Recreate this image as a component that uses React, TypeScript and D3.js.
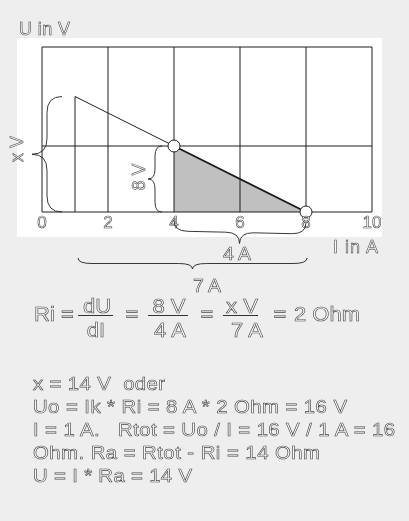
import React, { useEffect, useRef } from 'react';
import * as d3 from 'd3';

const WIDTH = 409;
const HEIGHT = 521;

// current axis (I in A) and voltage grid (U in V)
const xTicks = [0, 2, 4, 6, 8, 10];
const yGrid = [0, 8, 20];

// characteristic: from I=1A/U=14V through the measured point to the short circuit
const upperLine: [number, number][] = [[1, 14], [4, 8]];
const lowerLine: [number, number][] = [[4, 8], [8, 0]];
const dropLine: [number, number][] = [[1, 14], [1, 0]];
const shadedTriangle: [number, number][] = [[4, 8], [8, 0], [4, 0]];
const markers: [number, number][] = [[4, 8], [8, 0]];

const yLabel = 'U in V';
const xLabel = 'I in A';
const braceLabels = ['x V', '8 V', '4 A', '7 A'];

const formulaParts = ['Ri', '=', 'dU', 'dI', '=', '8 V', '4 A', '=', 'x V', '7 A', '=', '2 Ohm'];

const textLines = [
  'x = 14 V  oder',
  'Uo = Ik * Ri = 8 A * 2 Ohm = 16 V',
  'I = 1 A.   Rtot = Uo / I = 16 V / 1 A = 16',
  'Ohm. Ra = Rtot - Ri = 14 Ohm',
  'U = I * Ra = 14 V',
];

const FONT = '"Liberation Sans", Arial, sans-serif';

// curly brace between p1 and p2, tip pointing to the left of the p1->p2 direction
function bracePath(p1: [number, number], p2: [number, number], depth: number, radius: number) {
  const len = Math.hypot(p2[0] - p1[0], p2[1] - p1[1]);
  const ux = (p2[0] - p1[0]) / len;
  const uy = (p2[1] - p1[1]) / len;
  const nx = -uy;
  const ny = ux;
  const r = Math.min(radius, len / 4);
  const h = depth / 2;
  const pt = (t: number, s: number) => `${p1[0] + ux * t + nx * s},${p1[1] + uy * t + ny * s}`;
  const m = len / 2;
  return (
    `M${pt(0, 0)}Q${pt(0, h)} ${pt(r, h)}L${pt(m - r, h)}Q${pt(m, h)} ${pt(m, depth)}` +
    `M${pt(len, 0)}Q${pt(len, h)} ${pt(len - r, h)}L${pt(m + r, h)}Q${pt(m, h)} ${pt(m, depth)}`
  );
}

const App: React.FC = () => {
  const svgRef = useRef<SVGSVGElement>(null);

  useEffect(() => {
    if (!svgRef.current) return;
    const svg = d3.select(svgRef.current);
    svg.selectAll('*').remove();

    const x = d3.scaleLinear().domain([0, 10]).range([42, 372]);
    const y = d3.scaleLinear().domain([0, 20]).range([212, 47]);

    // no-op filter, only so the text is rasterised with grayscale antialiasing
    svg.append('defs')
      .append('filter').attr('id', 'flat')
      .attr('x', 0).attr('y', 0).attr('width', 1).attr('height', 1)
      .append('feOffset').attr('dx', 0).attr('dy', 0);

    // background + white plot panel
    svg.append('rect').attr('width', WIDTH).attr('height', HEIGHT).attr('fill', '#eeeeee');
    svg.append('rect').attr('x', 17).attr('y', 38).attr('width', 365).attr('height', 199).attr('fill', '#fff');

    const outlined = (sel: d3.Selection<any, any, any, any>, size: number) =>
      sel
        .attr('font-family', FONT)
        .attr('font-size', size)
        .attr('fill', '#fafafa')
        .attr('stroke', '#484848')
        .attr('stroke-width', 0.6)
        .style('white-space', 'pre');

    // shaded triangle
    const line = d3.line<[number, number]>().x(d => x(d[0])).y(d => y(d[1]));
    svg.append('path')
      .attr('d', line(shadedTriangle) + 'Z')
      .attr('fill', '#c0c0c0');

    // grid
    svg.append('g')
      .selectAll('line')
      .data(xTicks)
      .join('line')
      .attr('x1', d => x(d)).attr('x2', d => x(d))
      .attr('y1', y(0)).attr('y2', y(20))
      .attr('stroke', '#1e1e1e').attr('stroke-width', 1);
    svg.append('g')
      .selectAll('line')
      .data(yGrid)
      .join('line')
      .attr('x1', x(0)).attr('x2', x(10))
      .attr('y1', d => y(d)).attr('y2', d => y(d))
      .attr('stroke', '#1e1e1e').attr('stroke-width', 1);

    // characteristic lines
    svg.append('path').attr('d', line(dropLine)).attr('stroke', '#222').attr('stroke-width', 1).attr('fill', 'none');
    svg.append('path').attr('d', line(upperLine)).attr('stroke', '#222').attr('stroke-width', 1).attr('fill', 'none');
    svg.append('path').attr('d', line(lowerLine)).attr('stroke', '#1a1a1a').attr('stroke-width', 1.8).attr('fill', 'none');

    svg.selectAll('circle.marker')
      .data(markers)
      .join('circle')
      .attr('class', 'marker')
      .attr('cx', d => x(d[0])).attr('cy', d => y(d[1]))
      .attr('r', 6)
      .attr('fill', '#fff').attr('stroke', '#222').attr('stroke-width', 1);

    // all text in one filtered group
    const txt = svg.append('g').attr('filter', 'url(#flat)');

    // tick labels
    txt.append('g')
      .selectAll('text')
      .data(xTicks)
      .join('text')
      .attr('x', d => x(d)).attr('y', 228)
      .attr('text-anchor', 'middle')
      .text(d => String(d))
      .call(s => outlined(s, 17));

    // axis titles
    txt.append('text').attr('x', 19).attr('y', 35).attr('textLength', 51).text(yLabel).call(s => outlined(s, 18));
    txt.append('text').attr('x', 333).attr('y', 253).attr('textLength', 45).text(xLabel).call(s => outlined(s, 18));

    // braces
    const braceStyle = (p: d3.Selection<any, any, any, any>) =>
      p.attr('fill', 'none').attr('stroke', '#222').attr('stroke-width', 0.9);
    svg.append('path').attr('d', bracePath([x(1) - 13, y(14)], [x(1) - 13, y(0)], 30, 16)).call(braceStyle);
    svg.append('path').attr('d', bracePath([x(4) - 12, y(8)], [x(4) - 12, y(0)], 14, 10)).call(braceStyle);
    svg.append('path').attr('d', bracePath([x(4), y(0) + 8], [x(8), y(0) + 11], 22, 14)).call(braceStyle);
    svg.append('path').attr('d', bracePath([x(1) + 3, 258], [x(8) + 1, 258], 11, 14)).call(braceStyle);

    txt.append('text').attr('transform', 'translate(23,149) rotate(-90)').attr('text-anchor', 'middle')
      .text(braceLabels[0]).call(s => outlined(s, 18));
    txt.append('text').attr('transform', 'translate(145,177) rotate(-90)').attr('text-anchor', 'middle')
      .text(braceLabels[1]).call(s => outlined(s, 18));
    txt.append('text').attr('transform', 'translate(237,260) scale(1.08,1)').attr('text-anchor', 'middle')
      .text(braceLabels[2]).call(s => outlined(s, 18));
    txt.append('text').attr('transform', 'translate(207,292) scale(1.08,1)').attr('text-anchor', 'middle')
      .text(braceLabels[3]).call(s => outlined(s, 18));

    // formula Ri = dU/dI = 8V/4A = xV/7A = 2 Ohm
    const formulaPos: [number, number][] = [
      [44.5, 321], [67.5, 321], [97, 313], [96, 337], [132, 321],
      [169, 313], [170, 337], [207, 321], [242, 313], [247, 337], [280, 321], [327, 321],
    ];
    txt.append('g')
      .selectAll('text')
      .data(formulaParts)
      .join('text')
      .attr('transform', (_, i) => `translate(${formulaPos[i][0]},${formulaPos[i][1]}) scale(1.1,1)`)
      .attr('text-anchor', 'middle')
      .text(d => d)
      .call(s => outlined(s, 20));

    const bars: [number, number][] = [[78, 113], [148, 188], [223, 258]];
    svg.append('g')
      .selectAll('line')
      .data(bars)
      .join('line')
      .attr('x1', d => d[0]).attr('x2', d => d[1])
      .attr('y1', 315.5).attr('y2', 315.5)
      .attr('stroke', '#333').attr('stroke-width', 1);

    // explanation text, a little stretched like the original lettering
    const lineWidths = [132, 314, 362, 287, 159];
    const sx = 1.1;
    txt.append('g')
      .selectAll('text')
      .data(textLines)
      .join('text')
      .attr('transform', (_, i) => `translate(33,${390 + i * 23}) scale(${sx},1)`)
      .attr('textLength', (_, i) => lineWidths[i] / sx)
      .attr('lengthAdjust', 'spacing')
      .text(d => d)
      .call(s => outlined(s, 18.5));
  }, []);

  return (
    <div style={{ position: 'fixed', left: 0, top: 0, width: WIDTH, height: HEIGHT, background: '#eeeeee' }}>
      <svg ref={svgRef} width={WIDTH} height={HEIGHT} style={{ display: 'block' }} />
    </div>
  );
};

export default App;
